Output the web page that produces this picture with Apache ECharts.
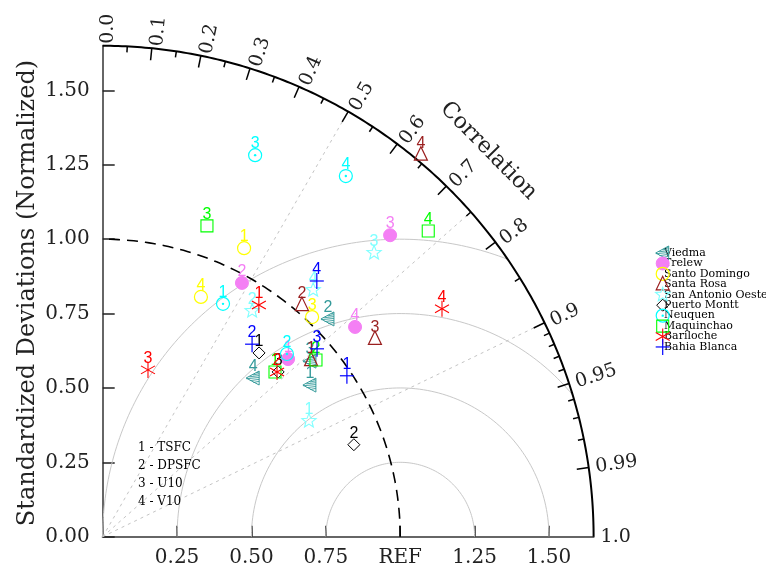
<!DOCTYPE html>
<html><head><meta charset="utf-8">
<script src="https://cdn.jsdelivr.net/npm/echarts@6/dist/echarts.min.js"></script>
<style>html,body{margin:0;padding:0;background:#fff}#c{width:766px;height:569px}</style>
</head><body><div id="c"></div>
<script>
// ---------------- data ----------------
const stations = ['Viedma','Trelew','Santo Domingo','Santa Rosa','San Antonio Oeste','Puerto Montt','Neuquen','Maquinchao','Bariloche','Bahia Blanca'];
const variables = ['1 - TSFC','2 - DPSFC','3 - U10','4 - V10'];
// normalized standard deviation and correlation for variables 1..4 (null = not visible)
const viedmaStd      = [0.863, 1.053, 0.913, 0.735];
const viedmaCor      = [0.807, 0.719, 0.763, 0.688];
const trelewStd      = [0.863, 0.973, 1.400, 1.103];
const trelewCor      = [0.722, 0.481, 0.690, 0.769];
const santoDomStd    = [1.080, null, 1.020, 0.871];
const santoDomCor    = [0.440, null, 0.690, 0.379];
const santaRosaStd   = [0.918, 1.027, 1.131, 1.671];
const santaRosaCor   = [0.763, 0.652, 0.809, 0.640];
const sanAntonioStd  = [0.795, 0.910, 1.320, 1.090];
const sanAntonioCor  = [0.872, 0.552, 0.691, 0.649];
const puertoMonttStd = [0.811, 0.899, 0.809, null];
const puertoMonttCor = [0.648, 0.939, 0.729, null];
const neuquenStd     = [0.881, 0.872, 1.381, 1.462];
const neuquenCor     = [0.459, 0.710, 0.371, 0.559];
const maquinchaoStd  = [0.801, 0.931, 1.102, 1.501];
const maquinchaoCor  = [0.723, 0.770, 0.318, 0.729];
const barilocheStd   = [0.939, 0.806, 0.581, 1.374];
const barilocheCor   = [0.559, 0.727, 0.262, 0.830];
const bahiaStd       = [0.983, 0.819, 0.958, 1.121];
const bahiaCor       = [0.835, 0.613, 0.752, 0.642];

const stdTicks = [0, 0.25, 0.5, 0.75, 1, 1.25, 1.5];
const xTicks = [0.25, 0.5, 0.75, 1, 1.25, 1.5];
const corrLabels = [0.0,0.1,0.2,0.3,0.4,0.5,0.6,0.7,0.8,0.9,0.95,0.99,1.0];
const corrLabelText = ['0.0','0.1','0.2','0.3','0.4','0.5','0.6','0.7','0.8','0.9','0.95','0.99','1.0'];
const corrMajor = [0.1,0.2,0.3,0.4,0.5,0.6,0.7,0.8,0.9,0.95,0.99];
const corrMinor = [0.05,0.15,0.25,0.35,0.45,0.55,0.65,0.75,0.85,0.91,0.92,0.93,0.94,0.96,0.97,0.98];
const rmsRadii = [0.25, 0.5, 0.75, 1.0];
const corrRays = [0.5, 0.75, 0.9];
const RMAX = 1.65;

const allStd = [viedmaStd,trelewStd,santoDomStd,santaRosaStd,sanAntonioStd,puertoMonttStd,neuquenStd,maquinchaoStd,barilocheStd,bahiaStd];
const allCor = [viedmaCor,trelewCor,santoDomCor,santaRosaCor,sanAntonioCor,puertoMonttCor,neuquenCor,maquinchaoCor,barilocheCor,bahiaCor];
const colors = ['#349a9a','#f47ff4','#ffff00','#9a1f1f','#80ffff','#000000','#00ffff','#00ff00','#ff0000','#0000ff'];

function markerEls(k, x, y){
  const c = colors[k];
  switch(k){
    case 0: {
      const els=[{type:'polygon', shape:{points:[[x-7,y],[x+6,y-7],[x+6,y+7]]}, style:{fill:'none', stroke:c, lineWidth:1}}];
      for(let d=-5.6; d<=5.7; d+=1.9){
        const xl = x-7+13*Math.abs(d)/7;
        els.push({type:'line', shape:{x1:xl, y1:y+d+0.6, x2:x+6, y2:y+d-0.6}, style:{stroke:c, lineWidth:0.9}});
      }
      return els;
    }
    case 1: return [{type:'circle', shape:{cx:x, cy:y, r:6.5}, style:{fill:c, stroke:c}}];
    case 2: return [{type:'circle', shape:{cx:x, cy:y, r:6.5}, style:{fill:'none', stroke:c, lineWidth:1.2}}];
    case 3: return [{type:'polygon', shape:{points:[[x,y-8],[x-6.5,y+5.5],[x+6.5,y+5.5]]}, style:{fill:'none', stroke:c, lineWidth:1.2}}];
    case 4: {
      const pts=[]; for(let i=0;i<10;i++){const a=-Math.PI/2+i*Math.PI/5; const r=i%2?3.2:7.5; pts.push([x+r*Math.cos(a), y+r*Math.sin(a)]);}
      return [{type:'polygon', shape:{points:pts}, style:{fill:'none', stroke:c, lineWidth:1.1}}];
    }
    case 5: return [{type:'polygon', shape:{points:[[x,y-6],[x+6,y],[x,y+6],[x-6,y]]}, style:{fill:'none', stroke:c, lineWidth:1}}];
    case 6: return [{type:'circle', shape:{cx:x, cy:y, r:6.5}, style:{fill:'none', stroke:c, lineWidth:1.2}},
                    {type:'circle', shape:{cx:x, cy:y, r:1.2}, style:{fill:c}}];
    case 7: return [{type:'rect', shape:{x:x-6, y:y-6, width:12, height:12}, style:{fill:'none', stroke:c, lineWidth:1.1}}];
    case 8: return [{type:'line', shape:{x1:x, y1:y-8, x2:x, y2:y+8}, style:{stroke:c, lineWidth:1.1}},
                    {type:'line', shape:{x1:x-7, y1:y-4, x2:x+7, y2:y+4}, style:{stroke:c, lineWidth:1.1}},
                    {type:'line', shape:{x1:x-7, y1:y+4, x2:x+7, y2:y-4}, style:{stroke:c, lineWidth:1.1}}];
    case 9: return [{type:'line', shape:{x1:x, y1:y-8, x2:x, y2:y+8}, style:{stroke:c, lineWidth:1.2}},
                    {type:'line', shape:{x1:x-7, y1:y, x2:x+7, y2:y}, style:{stroke:c, lineWidth:1.2}}];
  }
}

const SERIF = '"DejaVu Serif"';

const decoSeries = {
  type:'custom', silent:true, clip:false, z:1, data:[[0,0]],
  renderItem(params, api){
    const o = api.coord([0,0]);
    const u = api.size([1,0])[0];
    const P = (dx,dy)=>[o[0]+dx*u, o[1]-dy*u];
    const ch = [];
    rmsRadii.forEach(rho=>{
      const arg = (RMAX*RMAX-1-rho*rho)/(2*rho);
      const phi0 = arg>=1 ? 0 : Math.acos(arg);
      const pts=[]; const n=120;
      for(let i=0;i<=n;i++){const ph=phi0+(Math.PI-phi0)*i/n; pts.push(P(1+rho*Math.cos(ph), rho*Math.sin(ph)));}
      ch.push({type:'polyline', shape:{points:pts}, style:{fill:'none', stroke:'#c8c8c8', lineWidth:1}});
    });
    corrRays.forEach(c=>{
      const a=Math.acos(c); const e=P(RMAX*Math.cos(a), RMAX*Math.sin(a));
      ch.push({type:'line', shape:{x1:o[0],y1:o[1],x2:e[0],y2:e[1]}, style:{stroke:'#c4c4c4', lineWidth:1, lineDash:[3,4]}});
    });
    {const pts=[]; for(let i=0;i<=120;i++){const a=Math.PI/2*i/120; pts.push(P(Math.cos(a),Math.sin(a)));}
     ch.push({type:'polyline', shape:{points:pts}, style:{fill:'none', stroke:'#000', lineWidth:1.6, lineDash:[11,7]}});}
    {const pts=[]; for(let i=0;i<=200;i++){const a=Math.PI/2*i/200; pts.push(P(RMAX*Math.cos(a),RMAX*Math.sin(a)));}
     ch.push({type:'polyline', shape:{points:pts}, style:{fill:'none', stroke:'#000', lineWidth:2}});}
    const tick=(c,len)=>{const a=Math.acos(c); const p1=P(RMAX*Math.cos(a),RMAX*Math.sin(a));
      const p2=[p1[0]-len*Math.cos(a), p1[1]+len*Math.sin(a)];
      ch.push({type:'line', shape:{x1:p1[0],y1:p1[1],x2:p2[0],y2:p2[1]}, style:{stroke:'#000', lineWidth:1.5}});};
    corrMajor.forEach(c=>tick(c,12));
    corrMinor.forEach(c=>tick(c,6));
    corrLabels.forEach((c,i)=>{
      const a=Math.acos(c); const rp=RMAX*u+2;
      const x=o[0]+rp*Math.cos(a)+5, y=o[1]-rp*Math.sin(a);
      ch.push({type:'text', x, y, rotation:a, style:{text:corrLabelText[i], fill:'#222', font:'19px '+SERIF, align:'left', verticalAlign:'middle'}});
    });
    {const a=Math.PI/4; const rp=1.834*u;
     ch.push({type:'text', x:o[0]+rp*Math.cos(a), y:o[1]-rp*Math.sin(a), rotation:-0.794,
       style:{text:'Correlation', fill:'#222', font:'22px '+SERIF, align:'center', verticalAlign:'middle'}});}
    return {type:'group', children:ch};
  }
};

function stationSeries(k){
  const data=[];
  for(let i=0;i<4;i++) if(allStd[k][i]!=null) data.push([allStd[k][i], allCor[k][i], i+1]);
  return {
    type:'custom', name:stations[k], clip:false, z:3, data,
    renderItem(params, api){
      const s=api.value(0), c=api.value(1), n=api.value(2);
      const p=api.coord([s*c, s*Math.sqrt(1-c*c)]);
      const els=markerEls(k,p[0],p[1]);
      els.push({type:'text', x:p[0], y:p[1]-11.5, style:{text:String(n), fill:colors[k], font:'16px "Liberation Sans"', align:'center', verticalAlign:'middle'}});
      return {type:'group', children:els};
    }
  };
}

const graphics=[];
stations.forEach((name,k)=>{
  const y=253+10.44*k, x=662.7;
  graphics.push({type:'text', x:664, y, style:{text:name, fill:'#000', font:'11px '+SERIF, align:'left', verticalAlign:'middle'}, z:10});
  markerEls(k,x,y).forEach(e=>{e.z=11; graphics.push(e);});
});
variables.forEach((t,i)=>{
  graphics.push({type:'text', x:138, y:448.3+17.8*i, style:{text:t, fill:'#000', font:'12px '+SERIF, align:'left', verticalAlign:'middle'}, z:10});
});
graphics.push({type:'text', x:28, y:293, rotation:Math.PI/2, style:{text:'Standardized Deviations (Normalized)', fill:'#222', font:'24px '+SERIF, align:'center', verticalAlign:'middle'}, z:10});

const chart = echarts.init(document.getElementById('c'));
chart.setOption({
  animation:false,
  backgroundColor:'#fff',
  grid:{left:102.7, top:45.8, width:490.9, height:490.9, containLabel:false},
  xAxis:{type:'value', min:0, max:RMAX,
    axisLine:{show:true, lineStyle:{color:'#666', width:2}},
    axisTick:{show:true, inside:true, length:11, customValues:xTicks, lineStyle:{color:'#222', width:1.5}},
    axisLabel:{show:true, customValues:xTicks, margin:11, fontSize:20, fontFamily:'DejaVu Serif', color:'#222',
      formatter:v=>Math.abs(v-1)<1e-9?'REF':v.toFixed(2)},
    splitLine:{show:false}},
  yAxis:{type:'value', min:0, max:RMAX,
    axisLine:{show:true, lineStyle:{color:'#666', width:2}},
    axisTick:{show:true, inside:true, length:12, customValues:stdTicks, lineStyle:{color:'#222', width:1.5}},
    axisLabel:{show:true, customValues:stdTicks, margin:13, fontSize:20, fontFamily:'DejaVu Serif', color:'#222',
      formatter:v=>v.toFixed(2)},
    splitLine:{show:false}},
  graphic:graphics,
  series:[decoSeries].concat(stations.map((s,k)=>stationSeries(k)))
});
</script></body></html>
